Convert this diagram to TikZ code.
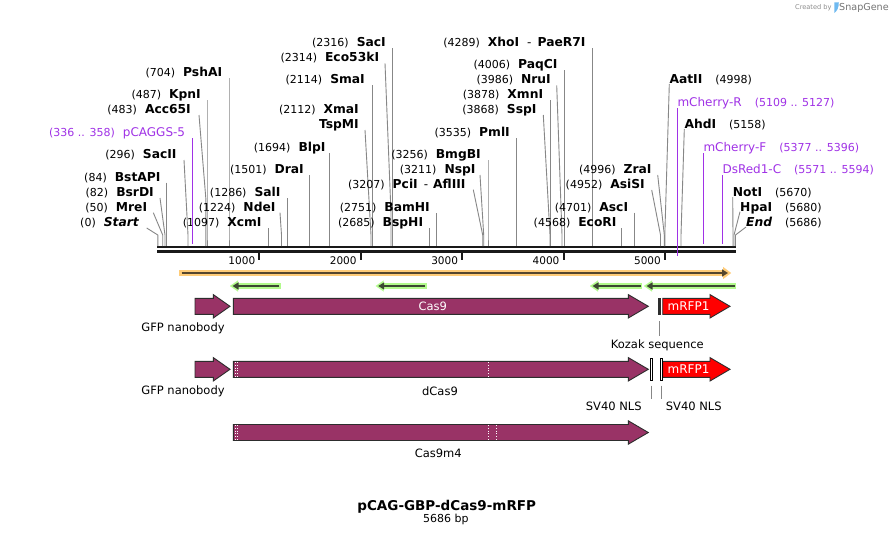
\documentclass[tikz,border=0pt]{standalone}
\usepackage{fontspec}
\setmainfont{DejaVu Sans}
\usetikzlibrary{arrows.meta}
\definecolor{feat}{RGB}{153,51,102}
\definecolor{primer}{RGB}{160,50,230}
\definecolor{leadc}{RGB}{135,135,135}
\definecolor{orhalo}{RGB}{255,204,120}
\definecolor{grhalo}{RGB}{178,250,140}
\definecolor{orline}{RGB}{85,70,45}
\definecolor{grline}{RGB}{60,72,50}
\definecolor{outl}{RGB}{45,45,45}
\definecolor{mred}{RGB}{255,0,0}
\definecolor{logoblue}{RGB}{110,185,240}

\newcommand\bpnum[1]{{\fontsize{11}{13}\selectfont(#1)}}
\newcommand\enz[1]{{\fontsize{12.3}{14}\selectfont\bfseries #1}}
\newcommand\pname[1]{{\fontsize{12}{14}\selectfont #1}}
\newcommand\gapL{\hspace{8pt}}
\newcommand\gapR{\hspace{13pt}}

% id, y, label right x, line top x, kink y, site x, content
\newcommand\siteL[7]{%
  \node[lbl,anchor=east] (#1) at (#3,#2) {#7};
  \coordinate (#1t) at (#4,#2+6);
  \coordinate (#1k) at (#6,#5);
  \coordinate (#1b) at (#6,246);
  \draw[leader] (#1t) -- (#1k) -- (#1b);
}
% id, y, label left x, kink y, site x, content
\newcommand\siteR[6]{%
  \node[lbl,anchor=west] (#1) at (#3,#2) {#6};
  \coordinate (#1t) at (#3,#2+5);
  \coordinate (#1k) at (#5,#4);
  \coordinate (#1b) at (#5,246);
  \draw[leader] (#1t) -- (#1k) -- (#1b);
}
% name, x0, x head, x tip, y centre, colour
\newcommand\farrow[6]{%
  \draw[featline,fill=#6] (#2,#5-8) -- (#3,#5-8) -- (#3,#5-11.7) -- (#4,#5)
     -- (#3,#5+11.7) -- (#3,#5+8) -- (#2,#5+8) -- cycle;
  \coordinate (#1) at ({(#2+#4)/2},#5);
}

\begin{document}
\begin{tikzpicture}[x=1pt,y=-1pt,
  lbl/.style={inner sep=0pt,text height=8.8pt,text depth=0pt},
  flbl/.style={inner sep=0pt,text height=8.4pt,text depth=0pt,font=\fontsize{11.5}{13}\selectfont},
  leader/.style={draw=leadc,line width=0.9pt},
  featline/.style={draw=outl,line width=0.9pt},
  ptline/.style={draw=primer,line width=1pt}]
\useasboundingbox (0,0) rectangle (893,535);
\fill[white] (0,0) rectangle (893,535);

% logo
\node[inner sep=0pt,anchor=east,text=black!45,font=\fontsize{6.6}{8}\selectfont] (created) at (831.7,7.5) {Created by};
\fill[logoblue] (834.3,2.5) -- (838.8,2.5) .. controls (838.8,8) and (837,11) .. (834.3,13) -- cycle;
\node[inner sep=0pt,anchor=west,text=black!55,font=\fontsize{9.6}{11}\selectfont] (snapgene) at (839,7.5) {SnapGene};

% sequence bar
\coordinate (barL) at (157,247);
\coordinate (barR) at (736,247);
\coordinate (barL2) at (157,251.3);
\coordinate (barR2) at (736,251.3);
\draw[black!90,line width=2.6pt] (barL) -- (barR);
\draw[black!90,line width=2.6pt] (barL2) -- (barR2);

% ruler
\foreach \k in {1,...,5}{
  \coordinate (tk\k) at ({158+101.4*\k},252.5);
  \coordinate (tb\k) at ({158+101.4*\k},259.5);
  \draw[black!90,line width=2pt] (tk\k) -- (tb\k);
  \node[inner sep=0pt,anchor=east,text height=7.7pt,text depth=0pt,font=\fontsize{10.5}{12}\selectfont] (rl\k) at ({154+101.4*\k},260.5) {\k000};
}

% left-side sites
\siteL{pshai}{72}{222.3}{229}{235}{229}{\bpnum{704}\gapL\enz{PshAI}}
\siteL{kpni}{94}{201}{207}{235}{207}{\bpnum{487}\gapL\enz{KpnI}}
\siteL{acc}{109}{191}{199}{198}{205.8}{\bpnum{483}\gapL\enz{Acc65I}}
\siteL{sacii}{154}{176.7}{184}{235}{188}{\bpnum{296}\gapL\enz{SacII}}
\siteL{bstapi}{176.7}{160.7}{166.7}{235}{166.7}{\bpnum{84}\gapL\enz{BstAPI}}
\siteL{bsrdi}{192}{154}{160}{235}{165}{\bpnum{82}\gapL\enz{BsrDI}}
\siteL{mrei}{206.7}{147.3}{153.3}{235}{162.7}{\bpnum{50}\gapL\enz{MreI}}
\siteL{start}{222}{139}{146.7}{235}{157.8}{\bpnum{0}\gapL\enz{\itshape Start}}
\siteL{xcmi}{222}{261.7}{268.7}{235}{268.7}{\bpnum{1097}\gapL\enz{XcmI}}
\siteL{ndei}{206.7}{275.7}{280}{235}{281.5}{\bpnum{1224}\gapL\enz{NdeI}}
\siteL{sali}{192}{280.7}{287.5}{235}{287.5}{\bpnum{1286}\gapL\enz{SalI}}
\siteL{drai}{169}{304}{309.5}{235}{309.5}{\bpnum{1501}\gapL\enz{DraI}}
\siteL{blpi}{147.3}{325.7}{329.5}{235}{329.5}{\bpnum{1694}\gapL\enz{BlpI}}
\siteL{saci}{42.3}{386}{392.5}{235}{392.5}{\bpnum{2316}\gapL\enz{SacI}}
\siteL{eco}{57.3}{379.3}{385}{213}{391}{\bpnum{2314}\gapL\enz{Eco53kI}}
\siteL{smai}{79.3}{365}{372.3}{235}{372.3}{\bpnum{2114}\gapL\enz{SmaI}}
\node[lbl,anchor=east] (xmai) at (359,109) {\bpnum{2112}\gapL\enz{XmaI}};
\siteL{tspmi}{124}{359}{365}{235}{371}{\enz{TspMI}}
\siteL{bmgbi}{154}{481}{488}{235}{488}{\bpnum{3256}\gapL\enz{BmgBI}}
\siteL{nspi}{169}{475.7}{480}{235}{483.7}{\bpnum{3211}\gapL\enz{NspI}}
\siteL{pcii}{183.7}{465.7}{473.3}{235}{482.7}{\bpnum{3207}\gapL\enz{PciI}\hspace{6pt}{\fontsize{12}{14}\selectfont -}\hspace{5pt}\enz{AflIII}}
\siteL{bamhi}{207}{430}{436.5}{235}{436.5}{\bpnum{2751}\gapL\enz{BamHI}}
\siteL{bsphi}{222}{423.3}{429.7}{235}{429.7}{\bpnum{2685}\gapL\enz{BspHI}}
\siteL{pmli}{132.3}{510}{516.5}{235}{516.5}{\bpnum{3535}\gapL\enz{PmlI}}
\siteL{xhoi}{42.3}{585.7}{592.5}{235}{592.5}{\bpnum{4289}\gapL\enz{XhoI}\hspace{8pt}{\fontsize{12}{14}\selectfont -}\hspace{6pt}\enz{PaeR7I}}
\siteL{paqci}{64}{557.7}{564.3}{235}{564.3}{\bpnum{4006}\gapL\enz{PaqCI}}
\siteL{nrui}{79.3}{551}{556.7}{235}{562}{\bpnum{3986}\gapL\enz{NruI}}
\siteL{xmni}{94}{543.3}{550.8}{235}{550.8}{\bpnum{3878}\gapL\enz{XmnI}}
\siteL{sspi}{109}{536.7}{543.3}{235}{550}{\bpnum{3868}\gapL\enz{SspI}}
\siteL{zrai}{169}{651.7}{657.7}{235}{664.3}{\bpnum{4996}\gapL\enz{ZraI}}
\siteL{asisi}{184}{645}{651.7}{235}{660.5}{\bpnum{4952}\gapL\enz{AsiSI}}
\siteL{asci}{206.7}{628.3}{634.5}{235}{634.5}{\bpnum{4701}\gapL\enz{AscI}}
\siteL{ecori}{222}{616.7}{621.5}{235}{621.5}{\bpnum{4568}\gapL\enz{EcoRI}}

% right-side sites
\siteR{aatii}{79}{669.3}{235}{664.8}{\enz{AatII}\gapR\bpnum{4998}}
\siteR{ahdi}{124}{684.3}{235}{681}{\enz{AhdI}\gapR\bpnum{5158}}
\siteR{noti}{192}{732.7}{235}{733}{\enz{NotI}\gapR\bpnum{5670}}
\siteR{hpai}{206.7}{740}{235}{734}{\enz{HpaI}\gapR\bpnum{5680}}
\siteR{endl}{222}{746}{235}{735.5}{\enz{\itshape End}\gapR\bpnum{5686}}

% primers
\node[lbl,anchor=east,text=primer] (pcaggs) at (185.3,132) {\bpnum{336 .. 358}\gapL\pname{pCAGGS-5}};
\coordinate (pcaggst) at (192,138); \coordinate (pcaggsb) at (192,243.5);
\draw[ptline] (pcaggst) -- (pcaggsb);
\node[lbl,anchor=west,text=primer] (mchr) at (677.3,102.3) {\pname{mCherry-R}\gapR\bpnum{5109 .. 5127}};
\coordinate (mchrt) at (677.3,108); \coordinate (mchrb) at (677.3,256);
\draw[ptline] (mchrt) -- (mchrb);
\node[lbl,anchor=west,text=primer] (mchf) at (703.3,147.3) {\pname{mCherry-F}\gapR\bpnum{5377 .. 5396}};
\coordinate (mchft) at (703.3,153); \coordinate (mchfb) at (703.3,243.5);
\draw[ptline] (mchft) -- (mchfb);
\node[lbl,anchor=west,text=primer] (dsred) at (722.3,169) {\pname{DsRed1-C}\gapR\bpnum{5571 .. 5594}};
\coordinate (dsredt) at (722.3,175); \coordinate (dsredb) at (722.3,243.5);
\draw[ptline] (dsredt) -- (dsredb);

% orange feature
\coordinate (orA) at (179.3,273); \coordinate (orB) at (724,273); \coordinate (orC) at (731,273);
\draw[orhalo,line width=6pt] (orA) -- (orB);
\draw[orhalo,line width=0.1pt,-{Triangle[length=8pt,width=12pt]}] (orB) -- (orC);
\draw[orline,line width=2pt,-{Triangle[length=6pt,width=7pt]}] (181.5,273) -- (728,273);

% green features
\foreach \a/\b [count=\i] in {230/280.7, 375.7/426.7, 590/642.3, 644/736}{
  \coordinate (gA\i) at (\a+7,286); \coordinate (gB\i) at (\b,286);
  \coordinate (gT\i) at (\a,286);
  \draw[grhalo,line width=6.5pt] (gA\i) -- (gB\i);
  \draw[grhalo,line width=0.1pt,-{Triangle[length=8pt,width=11pt]}] (gA\i) -- (gT\i);
  \draw[grline,line width=2pt,-{Triangle[length=6pt,width=7pt]}] (\b-1.5,286) -- (\a+2.5,286);
}

% row 1
\farrow{gfp1}{195}{213.3}{230}{306.3}{feat}
\farrow{cas9}{233.3}{628.3}{648.3}{306.3}{feat}
\farrow{rfp1}{662.7}{710}{730}{306.3}{mred}
\node[flbl,text=white] (cas9t) at (432.7,306.3) {Cas9};
\node[inner sep=0pt,text height=8.8pt,text depth=0pt,text=white,font=\fontsize{12}{14}\selectfont] (rfp1t) at (688.5,306.3) {mRFP1};
\fill[outl] (658.3,298) rectangle (660.5,314.5);
\coordinate (kozt) at (659.4,321); \coordinate (kozb) at (659.4,336);
\draw[leader] (kozt) -- (kozb);
\node[flbl] (kozak) at (657.3,344) {Kozak sequence};
\node[flbl] (gfpl1) at (183,327.3) {GFP nanobody};

% row 2
\farrow{gfp2}{195}{213.3}{230}{369.3}{feat}
\farrow{dcas9}{233.3}{628.3}{648.3}{369.3}{feat}
\farrow{rfp2}{662.7}{710}{730}{369.3}{mred}
\draw[white,dotted,line width=0.8pt] (235.4,362) -- (235.4,377);
\draw[white,dotted,line width=0.8pt] (236.9,362) -- (236.9,377);
\draw[white,dotted,line width=0.8pt] (488.8,362) -- (488.8,377);
\node[inner sep=0pt,text height=8.8pt,text depth=0pt,text=white,font=\fontsize{12}{14}\selectfont] (rfp2t) at (688.5,369.3) {mRFP1};
\draw[black,fill=white,line width=0.6pt] (650.5,358.5) rectangle (652.2,380.5);
\draw[black,fill=white,line width=0.6pt] (660.5,358.5) rectangle (662.2,380.5);
\coordinate (nls1t) at (651.3,385.7); \coordinate (nls1b) at (651.3,399.3);
\coordinate (nls2t) at (661.3,385.7); \coordinate (nls2b) at (661.3,399.3);
\draw[leader] (nls1t) -- (nls1b);
\draw[leader] (nls2t) -- (nls2b);
\node[flbl] (nls1) at (613.8,406.7) {SV40 NLS};
\node[flbl] (nls2) at (693.8,406.7) {SV40 NLS};
\node[flbl] (gfpl2) at (183,390.3) {GFP nanobody};
\node[flbl] (dcas9l) at (440,391) {dCas9};

% row 3
\farrow{cas9m4}{233.3}{628.3}{648.3}{432.5}{feat}
\draw[white,dotted,line width=0.8pt] (235.4,425) -- (235.4,440);
\draw[white,dotted,line width=0.8pt] (236.9,425) -- (236.9,440);
\draw[white,dotted,line width=0.8pt] (488.8,425) -- (488.8,440);
\draw[white,dotted,line width=0.8pt] (496,425) -- (496,440);
\node[flbl] (cas9m4l) at (438.3,453.3) {Cas9m4};

% title
\node[inner sep=0pt,text height=9.8pt,text depth=0pt,font=\fontsize{13.5}{16}\selectfont\bfseries] (title) at (446.7,505.3) {pCAG-GBP-dCas9-mRFP};
\node[inner sep=0pt,text height=8pt,text depth=0pt,font=\fontsize{11}{13}\selectfont] (size) at (445.8,518.5) {5686 bp};
\end{tikzpicture}
\end{document}
